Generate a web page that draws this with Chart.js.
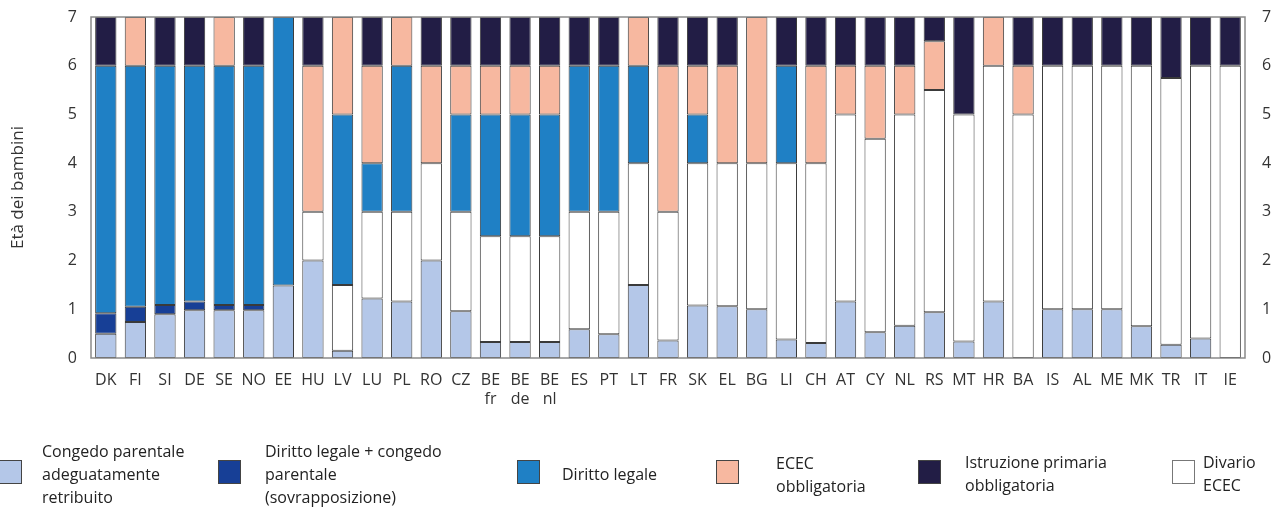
<!DOCTYPE html>
<html><head><meta charset="utf-8">
<script src="https://cdn.jsdelivr.net/npm/chart.js@4.4.1/dist/chart.umd.min.js"></script>
<style>
html,body{margin:0;padding:0;background:#fff;width:1285px;height:510px;overflow:hidden;font-family:"Open Sans",sans-serif;color:#222;}
#wrap{position:absolute;left:0;top:0;width:1271px;height:510px;overflow:hidden;}
.lg{position:absolute;font-size:16px;line-height:23px;color:#222;white-space:nowrap;}
.bx{position:absolute;width:23px;height:24px;box-sizing:border-box;border:1px solid #444;}
</style></head><body>
<div id="wrap"><canvas id="c" width="1285" height="510"></canvas></div>
<div id="legend"></div>
<script>
const categories = [["DK"],["FI"],["SI"],["DE"],["SE"],["NO"],["EE"],["HU"],["LV"],["LU"],["PL"],["RO"],["CZ"],["BE","fr"],["BE","de"],["BE","nl"],["ES"],["PT"],["LT"],["FR"],["SK"],["EL"],["BG"],["LI"],["CH"],["AT"],["CY"],["NL"],["RS"],["MT"],["HR"],["BA"],["IS"],["AL"],["ME"],["MK"],["TR"],["IT"],["IE"]];
// segment lengths (years) stacked bottom to top
const leave    = [0.5,0.74,0.9,0.98,0.98,0.98,1.49,2,0.15,1.22,1.16,2,0.96,0.33,0.33,0.33,0.59,0.49,1.5,0.36,1.08,1.06,1.0,0.38,0.31,1.16,0.53,0.66,0.94,0.34,1.16,0,1,1,1,0.65,0.27,0.4,0];
const overlap  = [0.42,0.31,0.19,0.18,0.11,0.11,0,0,0,0,0,0,0,0,0,0,0,0,0,0,0,0,0,0,0,0,0,0,0,0,0,0,0,0,0,0,0,0,0];
const gap      = [0,0,0,0,0,0,0,1,1.35,1.78,1.84,2,2.04,2.17,2.17,2.17,2.41,2.51,2.5,2.64,2.92,2.94,3.0,3.62,3.69,3.84,3.97,4.34,4.56,4.66,4.84,5,5,5,5,5.35,5.48,5.6,6];
const legal    = [5.08,4.95,4.91,4.84,4.91,4.91,5.51,0,3.5,1,3,0,2,2.5,2.5,2.5,3,3,2,0,1,0,0,2,0,0,0,0,0,0,0,0,0,0,0,0,0,0,0];
const ecec     = [0,1,0,0,1,0,0,3,2,2,1,2,1,1,1,1,0,0,1,3,1,2,3,0,2,1,1.5,1,1,0,1,1,0,0,0,0,0,0,0];
const primary  = [1,0,1,1,0,1,0,1,0,1,0,1,1,1,1,1,1,1,0,1,1,1,0,1,1,1,1,1,0.5,2,0,1,1,1,1,1,1.25,1,1];
const yTicks = [0,1,2,3,4,5,6,7];
const labels = {
  leave:["Congedo parentale","adeguatamente","retribuito"],
  overlap:["Diritto legale + congedo","parentale","(sovrapposizione)"],
  legal:["Diritto legale"],
  ecec:["ECEC","obbligatoria"],
  primary:["Istruzione primaria","obbligatoria"],
  gap:["Divario","ECEC"]
};
const colors = {leave:"#b4c7e8",overlap:"#173f96",legal:"#1f80c5",ecec:"#f7b8a0",primary:"#221d45",gap:"#ffffff"};

const FONT = "'Open Sans', sans-serif";
const mk = (key,data)=>({label:labels[key].join(" "),data:data.map(v=>v===0?null:v),backgroundColor:colors[key],borderColor:"#3a3a3a",borderWidth:1,borderSkipped:false,barPercentage:0.72,categoryPercentage:1,stack:"s"});

const boxPlugin = {id:"box",afterDraw(chart){const a=chart.chartArea,ctx=chart.ctx;ctx.save();ctx.strokeStyle="#8a8a8a";ctx.lineWidth=1.5;ctx.strokeRect(a.left,a.top,a.right-a.left,a.bottom-a.top);ctx.restore();}};

new Chart(document.getElementById("c"),{
  type:"bar",
  data:{labels:categories,datasets:[mk("leave",leave),mk("overlap",overlap),mk("gap",gap),mk("legal",legal),mk("ecec",ecec),mk("primary",primary)]},
  options:{
    responsive:false,animation:false,
    layout:{padding:{top:17,left:0,right:0,bottom:0}},
    plugins:{legend:{display:false},tooltip:{enabled:false}},
    scales:{
      x:{stacked:true,grid:{display:false,drawTicks:false},border:{display:false},
         ticks:{color:"#333",font:{family:FONT,size:16},padding:13,maxRotation:0,autoSkip:false},
         afterFit(s){s.height=152;}},
      y:{stacked:true,min:0,max:7,position:"left",grid:{display:false,drawTicks:false},border:{display:false},
         afterBuildTicks(s){s.ticks=yTicks.map(v=>({value:v}));},
         ticks:{color:"#333",font:{family:FONT,size:16},padding:14},
         title:{display:true,text:"Età dei bambini",color:"#333",font:{family:FONT,size:17},padding:{top:8,bottom:0}},
         afterFit(s){s.width=91;s.paddingTop=0;s.paddingBottom=0;}},
      y2:{min:0,max:7,position:"right",grid:{display:false,drawTicks:false},border:{display:false},
         afterBuildTicks(s){s.ticks=yTicks.map(v=>({value:v}));},
         ticks:{color:"#333",font:{family:FONT,size:16},padding:17},
         afterFit(s){s.width=40;s.paddingTop=0;s.paddingBottom=0;}}
    }
  },
  plugins:[boxPlugin]
});

// HTML legend
const legendItems = [
  {key:"leave",bx:-1,tx:42,ty:440},
  {key:"overlap",bx:218,tx:265,ty:440},
  {key:"legal",bx:517,tx:562,ty:463},
  {key:"ecec",bx:716,tx:776,ty:452},
  {key:"primary",bx:918,tx:965,ty:451},
  {key:"gap",bx:1172,tx:1203,ty:451}
];
const lg=document.getElementById("legend");
legendItems.forEach(it=>{
  const b=document.createElement("div");b.className="bx";b.style.left=it.bx+"px";b.style.top="460px";b.style.background=colors[it.key];
  if(it.key==="gap")b.style.borderColor="#777";
  lg.appendChild(b);
  const t=document.createElement("div");t.className="lg";t.style.left=it.tx+"px";t.style.top=it.ty+"px";
  t.innerHTML=labels[it.key].join("<br>");
  lg.appendChild(t);
});
</script>
</body></html>
